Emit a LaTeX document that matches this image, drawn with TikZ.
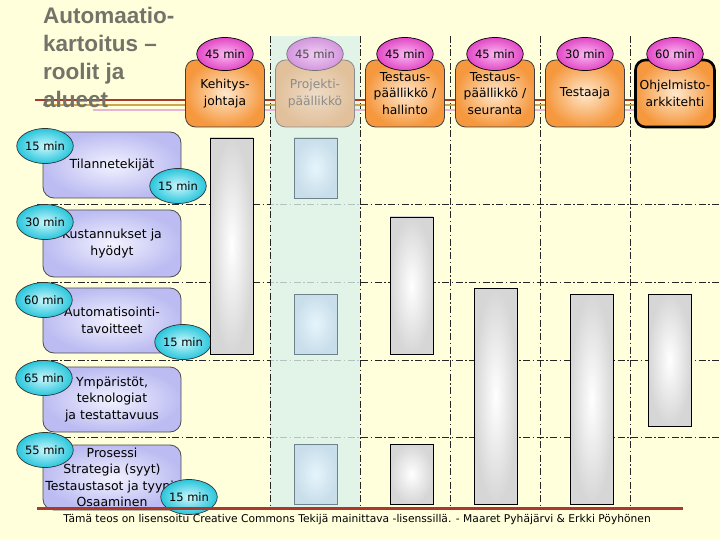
\documentclass[tikz,border=0pt]{standalone}
\usepackage{fontspec}
\setmainfont{DejaVu Sans}
\newfontfamily\titlefont{Liberation Sans}
\usetikzlibrary{shapes.geometric}
\definecolor{bg}{RGB}{255,255,220}
\definecolor{orOut}{RGB}{245,152,62}
\definecolor{orIn}{RGB}{255,232,205}
\definecolor{pkOut}{RGB}{226,72,198}
\definecolor{pkIn}{RGB}{250,185,240}
\definecolor{lvOut}{RGB}{188,188,242}
\definecolor{lvIn}{RGB}{242,242,255}
\definecolor{cyOut}{RGB}{40,198,220}
\definecolor{cyIn}{RGB}{205,247,252}
\definecolor{barOut}{RGB}{214,214,214}
\definecolor{bluOut}{RGB}{200,222,234}
\definecolor{bluIn}{RGB}{230,245,252}
\definecolor{bluBd}{RGB}{110,130,140}
\definecolor{projCol}{RGB}{218,240,236}
\definecolor{fadeOut}{RGB}{225,192,155}
\definecolor{fadeIn}{RGB}{238,220,198}
\definecolor{fadePkOut}{RGB}{212,150,222}
\definecolor{fadePkIn}{RGB}{238,205,242}
\definecolor{titleGray}{RGB}{115,115,105}
\definecolor{redLine}{RGB}{170,56,44}
\definecolor{goldLine}{RGB}{206,166,76}
\definecolor{pinkLine}{RGB}{228,182,208}
\begin{document}
\begin{tikzpicture}[x=1pt,y=-1pt,
  ddot/.style={line width=0.9pt, dash pattern=on 7pt off 2.5pt on 1.5pt off 2.5pt, draw=black!85},
  roleBox/.style={draw=black!75, line width=0.8pt, rounded corners=10pt, minimum width=79pt, minimum height=67pt, inner sep=1pt, align=center, inner color=orIn, outer color=orOut, font=\fontsize{12.3}{16.5}\selectfont},
  roleTime/.style={ellipse, draw=black, line width=0.7pt, minimum width=46pt, minimum height=33pt, inner sep=0pt, inner color=pkIn, outer color=pkOut, font=\fontsize{11.5}{13}\selectfont},
  areaBox/.style={draw=black!70, line width=0.8pt, rounded corners=11pt, minimum width=138pt, inner sep=1pt, align=center, inner color=lvIn, outer color=lvOut, font=\fontsize{12.5}{16.5}\selectfont},
  areaTime/.style={ellipse, draw=black!80, line width=0.7pt, minimum width=43pt, minimum height=35pt, inner sep=0pt, inner color=cyIn, outer color=cyOut, font=\fontsize{11.5}{13}\selectfont},
  grayBar/.style={draw=black, line width=0.8pt, inner color=white, outer color=barOut},
  blueBar/.style={draw=bluBd, line width=0.8pt, inner color=bluIn, outer color=bluOut},
]
\fill[bg] (0,0) rectangle (720,540);
\useasboundingbox (0,0) rectangle (720,540);

% horizontal grid lines
\foreach \yy in {204,282,360,437} \draw[ddot] (37,\yy) -- (720,\yy);
% project column highlight
\fill[projCol, fill opacity=0.78] (270,36) rectangle (360,510);
% vertical grid lines
\foreach \xx in {270,360,450,540,630} \draw[ddot] (\xx,36) -- (\xx,510);

% title underlines
\draw[redLine, line width=2.8pt] (35,100) -- (700,100);
\draw[goldLine, line width=2.8pt] (43,105) -- (700,105);
\draw[pinkLine, line width=2.8pt] (93,110) -- (700,110);

% title
\node[anchor=north west, inner sep=0pt, align=left, text=titleGray,
  font=\titlefont\bfseries\fontsize{22.5}{28}\selectfont] (title) at (43,7)
  {Automaatio-\\kartoitus –\\roolit ja\\alueet};

% roles
\node[roleBox] (kehitys) at (225,93.5) {Kehitys-\\johtaja};
\node[roleBox, draw=black!45, inner color=fadeIn, outer color=fadeOut, text=black!45] (projekti) at (315,93.5) {Projekti-\\päällikkö};
\node[roleBox] (hallinto) at (405,93.5) {Testaus-\\päällikkö /\\hallinto};
\node[roleBox] (seuranta) at (495,93.5) {Testaus-\\päällikkö /\\seuranta};
\node[roleBox] (testaaja) at (585,93.5) {Testaaja};
\node[roleBox, draw=black, line width=2.6pt] (arkkitehti) at (675,93.5) {Ohjelmisto-\\arkkitehti};

\node[roleTime] (t1) at (225,54) {45 min};
\node[roleTime, draw=black!55, inner color=fadePkIn, outer color=fadePkOut, text=black!70] (t2) at (315,54) {45 min};
\node[roleTime] (t3) at (405,54) {45 min};
\node[roleTime] (t4) at (495,54) {45 min};
\node[roleTime] (t5) at (585,54) {30 min};
\node[roleTime] (t6) at (675,54) {60 min};

% areas
\node[areaBox, minimum height=66pt] (a1) at (112,165) {Tilannetekijät};
\node[areaBox, minimum height=67pt] (a2) at (112,243.5) {Kustannukset ja\\hyödyt};
\node[areaBox, minimum height=65pt] (a3) at (112,320.5) {Automatisointi-\\tavoitteet};
\node[areaBox, minimum height=65pt] (a4) at (112,399.5) {Ympäristöt,\\teknologiat\\ja testattavuus};
\node[areaBox, minimum height=65pt] (a5) at (112,477.5) {Prosessi\\Strategia (syyt)\\Testaustasot ja tyypit\\Osaaminen};

\node[areaTime] (c1) at (45,146) {15 min};
\node[areaTime] (c2) at (178,186) {15 min};
\node[areaTime] (c3) at (45,222) {30 min};
\node[areaTime] (c4) at (44,300) {60 min};
\node[areaTime] (c5) at (183,342) {15 min};
\node[areaTime] (c6) at (44,378) {65 min};
\node[areaTime] (c7) at (45,450) {55 min};
\node[areaTime] (c8) at (189,497) {15 min};

% bars
\path[grayBar] (210,138) rectangle (253,354);
\path[blueBar] (294,138) rectangle (337,198);
\path[blueBar] (294,294) rectangle (337,354);
\path[blueBar] (294,444) rectangle (337,504);
\path[grayBar] (390,217) rectangle (433,354);
\path[grayBar] (390,444) rectangle (433,504);
\path[grayBar] (474,288) rectangle (517,504);
\path[grayBar] (570,294) rectangle (613,504);
\path[grayBar] (648,294) rectangle (691,426);

% bottom line and footer
\draw[redLine, line width=3pt] (37,508) -- (683,508);
\node[inner sep=0pt, font=\fontsize{10.7}{12}\selectfont] (footer) at (357,519.5)
  {Tämä teos on lisensoitu Creative Commons Tekijä mainittava -lisenssillä. - Maaret Pyhäjärvi \& Erkki Pöyhönen};
\end{tikzpicture}
\end{document}
